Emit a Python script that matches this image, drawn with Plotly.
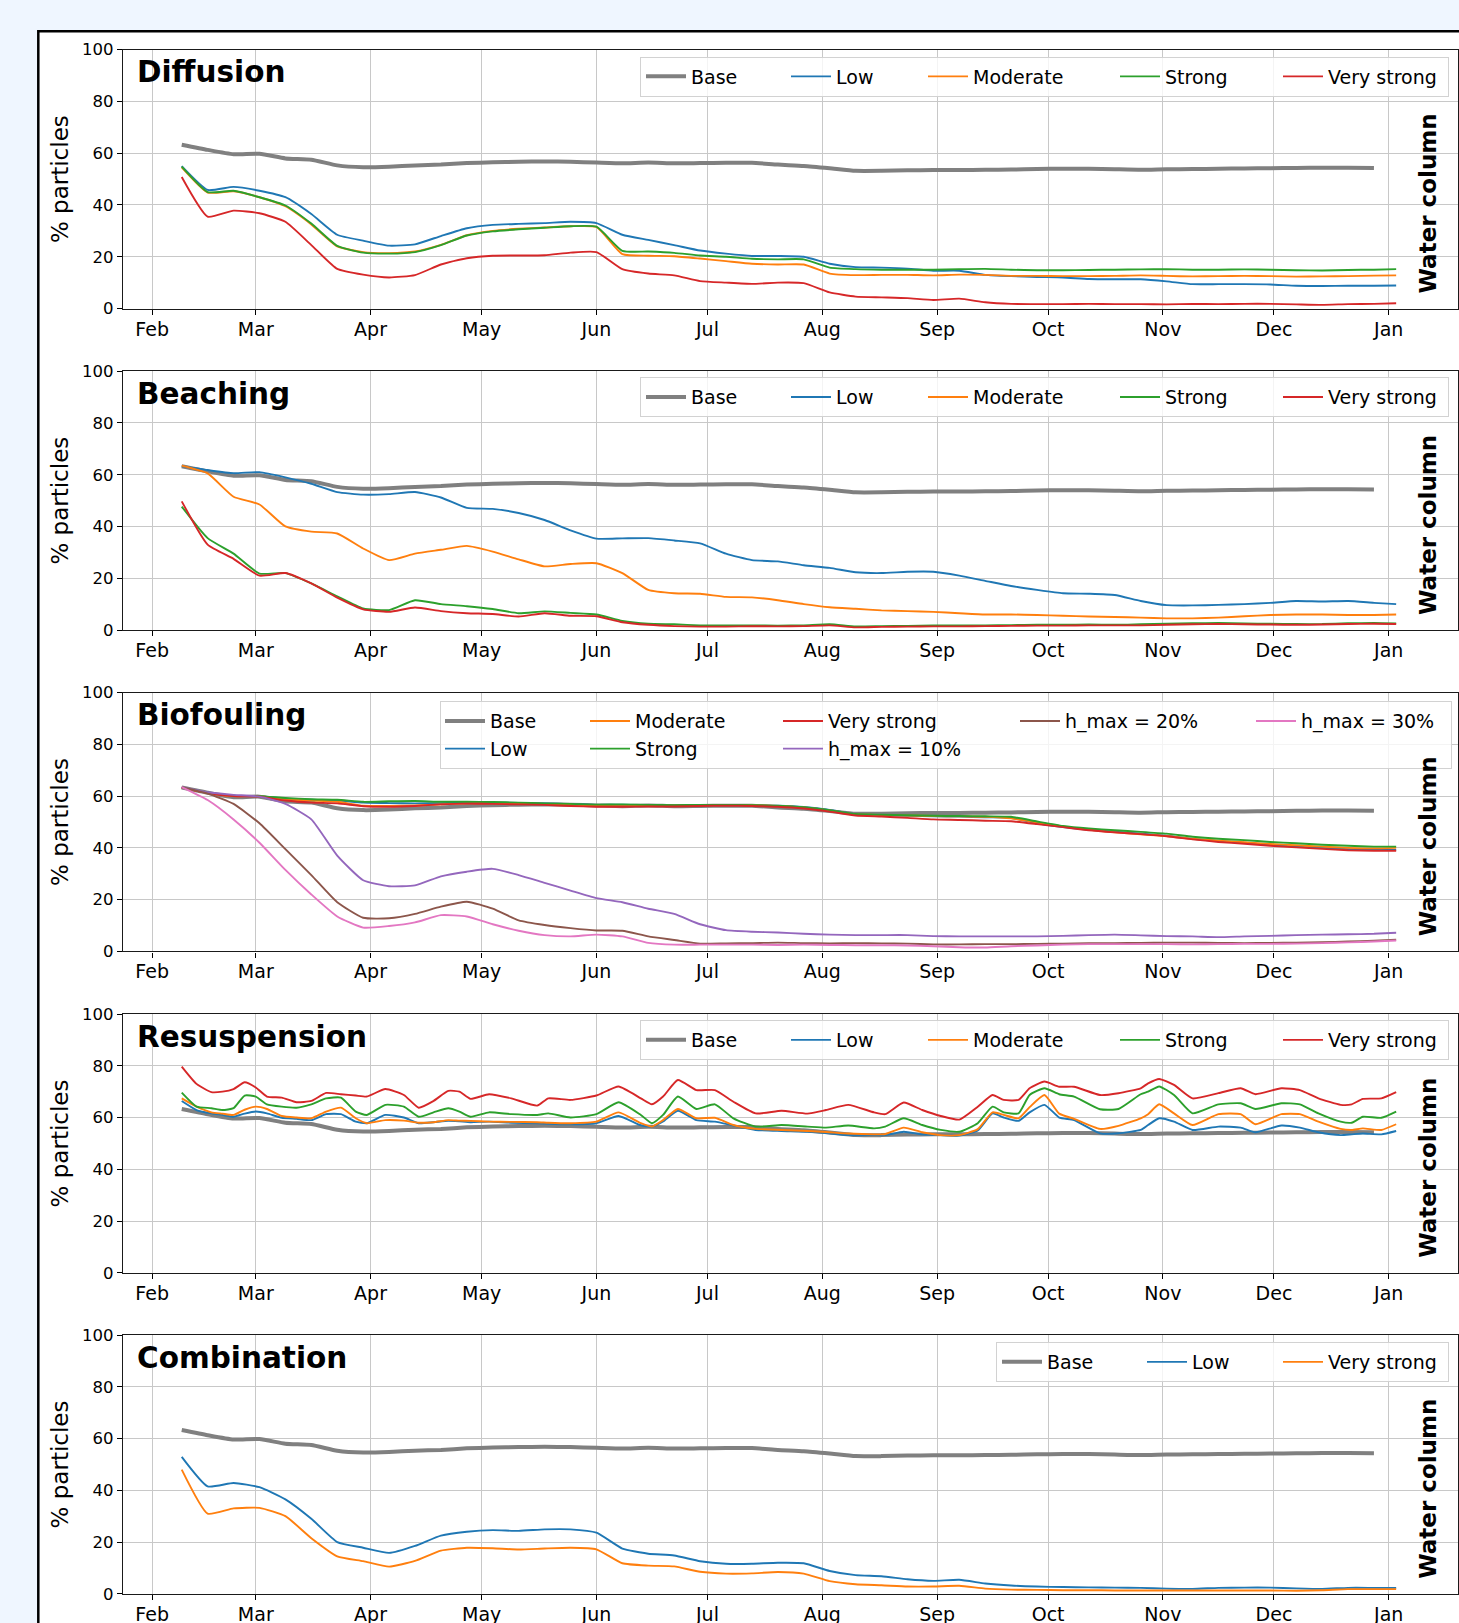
import pandas as pd
import plotly.graph_objects as go

# ---------------- data (days after 2019-02-01) ----------------
START = pd.Timestamp("2019-02-01")

weekly_days = [8, 15, 22, 29, 36, 43, 50, 57,
               64, 71, 78, 85, 92, 99, 106, 113,
               120, 127, 134, 141, 148, 155, 162, 169,
               176, 183, 190, 197, 204, 211, 218, 225,
               232, 239, 246, 253, 260, 267, 274, 281,
               288, 295, 302, 309, 316, 323, 330, 336]

base = [63.3, 61.3, 59.6, 59.8, 58.0, 57.5, 55.3, 54.6,
        54.8, 55.3, 55.6, 56.2, 56.5, 56.7, 56.8, 56.7,
        56.4, 56.1, 56.4, 56.1, 56.2, 56.3, 56.3, 55.6,
        55.1, 54.2, 53.2, 53.2, 53.4, 53.5, 53.5, 53.6,
        53.7, 53.9, 54.0, 54.0, 53.8, 53.6, 53.8, 53.9,
        54.0, 54.1, 54.2, 54.3, 54.4, 54.4, 54.3]

# Diffusion
dif_low = [55.0, 45.8, 47.0, 45.5, 43.0, 36.5, 28.5, 26.2,
           24.3, 24.8, 28.0, 31.0, 32.3, 32.7, 33.0, 33.5,
           33.0, 28.5, 26.5, 24.5, 22.4, 21.2, 20.3, 20.3,
           20.0, 17.3, 16.0, 15.8, 15.4, 14.6, 14.6, 13.0,
           12.5, 12.2, 12.0, 11.4, 11.3, 11.3, 10.5, 9.4,
           9.4, 9.4, 9.3, 8.8, 8.7, 8.8, 8.8, 8.9]
dif_mod = [54.5, 44.8, 45.3, 43.0, 39.5, 32.5, 24.0, 21.8,
           21.4, 22.0, 24.6, 28.3, 30.0, 30.8, 31.3, 31.8,
           31.5, 21.0, 20.4, 20.2, 19.3, 18.3, 17.3, 17.0,
           17.0, 13.5, 12.9, 13.0, 13.0, 12.8, 13.1, 13.0,
           12.6, 12.6, 12.5, 12.5, 12.6, 12.8, 12.6, 12.4,
           12.5, 12.6, 12.5, 12.3, 12.4, 12.5, 12.7, 12.8]
dif_str = [54.8, 45.0, 45.5, 43.0, 39.8, 32.8, 24.2, 21.6,
           21.2, 21.8, 24.5, 28.2, 29.8, 30.6, 31.2, 31.8,
           31.6, 22.3, 22.0, 21.5, 20.5, 20.0, 19.2, 19.0,
           19.0, 15.8, 15.2, 15.0, 15.0, 15.0, 15.2, 15.3,
           15.0, 14.8, 14.8, 14.9, 15.0, 15.1, 15.2, 15.0,
           15.0, 15.1, 15.0, 14.8, 14.7, 14.9, 15.0, 15.2]
dif_vs = [50.8, 35.5, 37.8, 36.8, 33.5, 24.5, 15.3, 13.1,
          12.0, 12.9, 17.0, 19.4, 20.4, 20.5, 20.6, 21.6,
          21.8, 15.2, 13.5, 12.8, 10.6, 10.0, 9.5, 10.0,
          9.8, 6.2, 4.6, 4.3, 4.0, 3.3, 3.8, 2.4,
          1.8, 1.7, 1.7, 1.8, 1.7, 1.7, 1.6, 1.8,
          1.7, 1.8, 1.8, 1.6, 1.4, 1.7, 1.8, 2.0]

# Beaching
bea_low = [63.3, 61.8, 60.6, 61.0, 59.0, 56.5, 53.3, 52.3,
           52.5, 53.3, 51.2, 47.2, 46.8, 45.2, 42.5, 38.5,
           35.3, 35.4, 35.5, 34.6, 33.5, 29.5, 27.0, 26.5,
           25.0, 24.0, 22.3, 22.0, 22.5, 22.5, 21.0, 19.0,
           17.0, 15.5, 14.2, 14.0, 13.5, 11.2, 9.6, 9.5,
           9.7, 10.0, 10.5, 11.2, 11.0, 11.2, 10.5, 10.0]
bea_mod = [63.5, 60.5, 51.5, 48.5, 40.0, 38.0, 37.3, 31.5,
           27.0, 29.5, 31.0, 32.5, 30.3, 27.3, 24.6, 25.5,
           25.8, 22.0, 15.5, 14.2, 14.0, 12.8, 12.6, 11.5,
           10.0, 8.8, 8.2, 7.6, 7.3, 7.0, 6.5, 6.0,
           6.0, 5.8, 5.5, 5.2, 5.0, 4.8, 4.5, 4.5,
           4.8, 5.3, 5.8, 6.0, 6.0, 5.8, 5.8, 6.0]
bea_str = [47.7, 35.5, 29.5, 21.8, 22.0, 18.0, 13.0, 8.3,
           7.7, 11.5, 10.0, 9.2, 8.1, 6.5, 7.2, 6.6,
           6.0, 3.5, 2.4, 2.2, 1.8, 1.8, 1.8, 1.7,
           1.8, 2.2, 1.4, 1.5, 1.6, 1.8, 1.8, 1.8,
           1.9, 2.0, 2.0, 2.1, 2.0, 2.2, 2.4, 2.6,
           2.7, 2.5, 2.4, 2.3, 2.3, 2.6, 2.7, 2.5]
bea_vs = [49.7, 33.0, 27.5, 21.0, 22.0, 18.0, 12.5, 8.0,
          7.0, 8.7, 7.3, 6.5, 6.2, 5.2, 6.5, 5.5,
          5.3, 3.0, 2.0, 1.5, 1.3, 1.3, 1.5, 1.4,
          1.5, 1.8, 1.0, 1.2, 1.3, 1.4, 1.4, 1.5,
          1.6, 1.7, 1.7, 1.8, 1.8, 1.8, 2.0, 2.2,
          2.3, 2.2, 2.1, 2.0, 2.1, 2.3, 2.4, 2.3]

# Biofouling
bio_low = [63.3, 61.3, 60.2, 60.0, 59.0, 58.6, 58.3, 57.5,
           57.3, 57.2, 57.3, 57.6, 57.5, 57.4, 57.2, 56.9,
           56.6, 56.7, 56.5, 56.4, 56.5, 56.6, 56.5, 56.3,
           55.8, 54.7, 53.0, 52.6, 52.4, 52.2, 52.1, 51.8,
           51.6, 49.5, 48.0, 47.0, 46.3, 45.5, 44.7, 43.5,
           42.6, 42.0, 41.2, 40.5, 40.0, 39.5, 39.2, 39.2]
bio_mod = [63.3, 61.2, 60.0, 60.0, 58.8, 58.3, 57.8, 56.3,
           56.2, 56.4, 56.8, 57.2, 57.2, 57.1, 57.0, 56.7,
           56.5, 56.6, 56.5, 56.4, 56.5, 56.6, 56.5, 56.2,
           55.6, 54.5, 53.0, 52.7, 52.5, 52.3, 52.2, 52.0,
           51.4, 49.8, 48.3, 47.0, 46.0, 45.2, 44.6, 43.5,
           42.8, 42.2, 41.5, 41.0, 40.5, 40.0, 39.8, 40.0]
bio_str = [63.3, 61.3, 60.2, 60.0, 59.3, 58.8, 58.6, 57.8,
           58.0, 58.1, 57.8, 57.8, 57.7, 57.5, 57.2, 57.0,
           56.7, 56.8, 56.6, 56.5, 56.6, 56.6, 56.5, 56.3,
           55.7, 54.6, 53.1, 52.8, 52.6, 52.4, 52.3, 52.2,
           52.0, 50.2, 48.5, 47.5, 46.8, 46.2, 45.5, 44.3,
           43.5, 43.0, 42.3, 41.8, 41.2, 40.8, 40.5, 40.5]
bio_vs = [63.3, 61.2, 60.0, 59.8, 58.3, 57.5, 57.2, 56.1,
          55.9, 56.2, 56.8, 57.1, 57.0, 56.8, 56.6, 56.2,
          55.9, 55.9, 56.0, 56.0, 56.2, 56.3, 56.2, 55.9,
          55.2, 54.0, 52.5, 52.1, 51.6, 51.0, 50.8, 50.5,
          50.3, 49.2, 48.0, 46.8, 46.0, 45.3, 44.5, 43.3,
          42.3, 41.6, 40.8, 40.2, 39.6, 39.1, 38.9, 38.9]
bio_h10 = [63.5, 61.5, 60.5, 59.8, 57.0, 51.0, 37.0, 27.5,
           25.2, 25.5, 29.0, 30.8, 31.9, 29.5, 26.5, 23.5,
           20.6, 19.0, 16.5, 14.5, 10.5, 8.2, 7.6, 7.3,
           6.8, 6.5, 6.3, 6.3, 6.3, 5.9, 5.8, 5.8,
           5.8, 5.8, 6.0, 6.3, 6.5, 6.2, 5.9, 5.8,
           5.5, 5.8, 6.0, 6.3, 6.5, 6.6, 6.8, 7.2]
bio_h20 = [63.5, 61.0, 57.0, 49.5, 39.5, 29.5, 19.0, 13.0,
           12.8, 14.5, 17.3, 19.2, 16.5, 12.0, 10.2, 9.0,
           8.1, 8.0, 5.8, 4.4, 3.0, 3.1, 3.2, 3.4,
           3.2, 3.1, 3.2, 3.1, 3.0, 2.7, 2.7, 2.8,
           2.8, 2.9, 3.0, 3.2, 3.2, 3.3, 3.4, 3.4,
           3.3, 3.2, 3.3, 3.4, 3.6, 3.8, 4.1, 4.5]
bio_h30 = [63.5, 58.5, 51.0, 42.0, 31.5, 22.0, 13.5, 9.2,
           9.8, 11.2, 14.0, 13.5, 10.5, 8.0, 6.3, 5.8,
           6.5, 5.8, 3.3, 2.6, 2.6, 2.6, 2.6, 2.5,
           2.6, 2.5, 2.4, 2.4, 2.3, 2.0, 1.6, 1.5,
           2.0, 2.3, 2.6, 2.8, 2.8, 2.8, 2.8, 2.7,
           2.8, 2.9, 2.9, 3.0, 3.2, 3.5, 3.8, 4.2]

# Resuspension (denser sampling)
res_days = [8, 12, 16, 19, 22, 25, 28, 31,
            35, 39, 43, 47, 51, 55, 58, 63,
            68, 72, 76, 80, 83, 86, 91, 97,
            104, 107, 113, 120, 126, 132, 135, 138,
            142, 147, 152, 157, 163, 170, 177, 182,
            188, 195, 198, 203, 208, 213, 218, 223,
            227, 230, 234, 237, 241, 245, 249, 256,
            261, 267, 269, 272, 276, 281, 288, 294,
            298, 305, 310, 315, 321, 324, 327, 332,
            336]
res_vs = [79.7, 73.0, 69.8, 70.0, 71.0, 73.6, 71.6, 68.1,
          67.7, 65.9, 66.4, 69.5, 69.0, 68.5, 68.1, 71.0,
          68.7, 63.8, 66.4, 70.3, 70.0, 67.2, 69.0, 67.4,
          64.6, 67.4, 66.8, 68.5, 72.0, 67.4, 65.1, 68.1,
          74.5, 70.6, 70.6, 66.1, 61.6, 62.6, 61.5, 62.9,
          64.9, 62.0, 61.3, 65.8, 62.9, 60.6, 59.2, 64.2,
          68.7, 66.8, 66.8, 71.3, 73.9, 71.9, 71.9, 68.7,
          69.4, 71.3, 73.2, 74.9, 72.6, 67.4, 69.4, 71.3,
          69.0, 71.3, 70.6, 67.4, 64.9, 65.1, 67.2, 67.4,
          69.8]
res_str = [69.6, 64.2, 63.6, 62.9, 63.6, 68.5, 68.1, 65.1,
           64.2, 63.8, 65.1, 67.4, 67.7, 62.3, 61.0, 64.9,
           64.2, 60.3, 62.0, 63.6, 62.3, 60.3, 62.0, 61.3,
           61.0, 61.6, 60.0, 61.3, 65.9, 61.0, 57.8, 61.0,
           68.1, 63.3, 65.1, 59.7, 56.5, 57.1, 56.5, 56.1,
           56.9, 55.8, 56.5, 59.7, 57.1, 55.2, 54.5, 57.8,
           64.2, 62.0, 61.6, 68.7, 71.3, 69.0, 68.1, 63.2,
           63.3, 69.0, 70.0, 72.0, 68.7, 61.6, 65.1, 65.5,
           63.3, 65.5, 65.1, 61.6, 58.4, 58.0, 60.3, 59.9,
           62.3]
res_mod = [67.4, 64.2, 62.0, 61.5, 61.0, 63.0, 64.2, 63.3,
           60.6, 60.0, 59.7, 62.3, 63.8, 59.7, 57.8, 59.0,
           58.8, 58.0, 58.2, 59.0, 58.8, 58.7, 58.4, 58.3,
           58.2, 58.0, 57.8, 58.4, 62.0, 57.8, 56.5, 59.0,
           63.3, 59.7, 59.9, 57.1, 55.6, 55.2, 54.8, 54.4,
           53.8, 53.5, 53.6, 56.1, 54.3, 53.2, 53.2, 55.5,
           62.0, 61.0, 59.7, 64.0, 68.7, 61.5, 59.5, 55.6,
           56.8, 59.7, 61.3, 65.1, 61.6, 57.1, 61.3, 61.3,
           57.4, 61.3, 61.3, 58.4, 55.6, 55.2, 55.8, 55.2,
           57.4]
res_low = [66.4, 62.9, 61.6, 61.0, 60.3, 61.5, 62.3, 61.6,
           59.9, 59.5, 59.0, 61.3, 61.3, 58.4, 57.8, 61.0,
           60.0, 57.8, 58.2, 58.7, 58.5, 58.2, 58.4, 58.0,
           57.8, 57.6, 57.4, 57.8, 60.6, 57.0, 56.5, 58.5,
           62.6, 59.0, 58.4, 56.9, 55.2, 54.8, 54.5, 54.0,
           53.2, 53.2, 53.2, 54.5, 53.5, 53.2, 53.0, 55.0,
           61.6, 60.0, 58.7, 62.0, 64.9, 60.0, 59.0, 53.9,
           53.9, 55.2, 57.1, 59.7, 58.4, 55.2, 56.5, 56.1,
           54.3, 56.9, 56.1, 54.3, 53.2, 53.5, 53.8, 53.5,
           54.8]

# Combination
com_low = [52.9, 41.5, 42.8, 41.2, 36.5, 29.0, 20.0, 17.8,
           15.8, 18.5, 22.5, 24.0, 24.6, 24.3, 24.9, 24.9,
           23.6, 17.5, 15.5, 14.8, 12.6, 11.6, 11.6, 12.0,
           11.8, 8.8, 7.2, 6.8, 5.6, 5.0, 5.4, 4.0,
           3.2, 2.8, 2.6, 2.5, 2.4, 2.3, 2.0, 1.9,
           2.3, 2.4, 2.4, 2.1, 1.9, 2.3, 2.3, 2.3]
com_vs = [48.0, 31.0, 33.0, 33.2, 30.0, 21.5, 14.5, 12.6,
          10.5, 12.7, 16.7, 17.8, 17.6, 17.1, 17.5, 17.8,
          17.2, 11.8, 10.9, 10.6, 8.5, 7.8, 7.9, 8.4,
          7.8, 4.9, 3.7, 3.3, 2.8, 2.8, 3.1, 2.0,
          1.6, 1.5, 1.4, 1.4, 1.3, 1.3, 1.3, 1.3,
          1.3, 1.3, 1.3, 1.2, 1.4, 1.8, 1.8, 1.8]

panel_titles = ["Diffusion", "Beaching", "Biofouling", "Resuspension", "Combination"]

# ---------------- styling ----------------
C_BASE = "#808080"
C = {"Low": "#1f77b4", "Moderate": "#ff7f0e", "Strong": "#2ca02c",
     "Very strong": "#d62728", "h_max = 10%": "#9467bd",
     "h_max = 20%": "#8c564b", "h_max = 30%": "#e377c2"}
FONT = "DejaVu Sans"

W, H = 1459, 1623
ML = 123
PW = W - ML - 1
tops = [49.7, 371.2, 692.6, 1014.0, 1335.0]
PH = 258.8


def dates(days):
    return [START + pd.Timedelta(days=d) for d in days]


wk = weekly_days
panels = [
    [("Base", wk[:len(base)], base, C_BASE, 4, 90),
     ("Low", wk, dif_low, C["Low"], 1.9, 82),
     ("Moderate", wk, dif_mod, C["Moderate"], 1.9, 137),
     ("Strong", wk, dif_str, C["Strong"], 1.9, 108),
     ("Very strong", wk, dif_vs, C["Very strong"], 1.9, 115)],
    [("Base", wk[:len(base)], base, C_BASE, 4, 90),
     ("Low", wk, bea_low, C["Low"], 1.9, 82),
     ("Moderate", wk, bea_mod, C["Moderate"], 1.9, 137),
     ("Strong", wk, bea_str, C["Strong"], 1.9, 108),
     ("Very strong", wk, bea_vs, C["Very strong"], 1.9, 115)],
    [("Base", wk[:len(base)], base, C_BASE, 4, 90, "g1"),
     ("Low", wk, bio_low, C["Low"], 1.9, 90, "g1"),
     ("Moderate", wk, bio_mod, C["Moderate"], 1.9, 138, "g2"),
     ("Strong", wk, bio_str, C["Strong"], 1.9, 138, "g2"),
     ("Very strong", wk, bio_vs, C["Very strong"], 1.9, 182, "g3"),
     ("h_max = 10%", wk, bio_h10, C["h_max = 10%"], 1.9, 182, "g3"),
     ("h_max = 20%", wk, bio_h20, C["h_max = 20%"], 1.9, 181, "g4"),
     ("h_max = 30%", wk, bio_h30, C["h_max = 30%"], 1.9, 145, "g5")],
    [("Base", wk[:len(base)], base, C_BASE, 4, 90),
     ("Low", res_days, res_low, C["Low"], 1.9, 82),
     ("Moderate", res_days, res_mod, C["Moderate"], 1.9, 137),
     ("Strong", res_days, res_str, C["Strong"], 1.9, 108),
     ("Very strong", res_days, res_vs, C["Very strong"], 1.9, 115)],
    [("Base", wk[:len(base)], base, C_BASE, 4, 90),
     ("Low", wk, com_low, C["Low"], 1.9, 81),
     ("Very strong", wk, com_vs, C["Moderate"], 1.9, 115)],
]
legend_centers = [26.8, 26.0, 42.5, 26.0, 27.0]
legend_right = [1449, 1449, 1452, 1449, 1449]

fig = go.Figure()
layout = dict(
    width=W, height=H,
    margin=dict(l=ML, r=1, t=0, b=0, pad=0),
    paper_bgcolor="#eff6ff", plot_bgcolor="white",
    font=dict(family=FONT, color="black", size=16),
    template="none", showlegend=True,
    annotations=[], shapes=[],
)

# figure frame (white card with black border)
layout["shapes"].append(dict(
    type="rect", xref="paper", yref="paper", layer="below",
    x0=(38.3 - ML) / PW, x1=(W + 40 - ML) / PW,
    y0=-0.1, y1=1 - 31.3 / H,
    line=dict(color="black", width=2.5), fillcolor="white"))

for i, (title, series) in enumerate(zip(panel_titles, panels)):
    k = i + 1
    s = "" if k == 1 else str(k)
    top = tops[i]
    y1 = 1 - top / H
    y0 = 1 - (top + PH) / H
    lg = "legend" if k == 1 else f"legend{k}"
    grouped = (title == "Biofouling")
    for item in series:
        name, dd, vals, col, lw, lwid = item[:6]
        grp = item[6] if len(item) > 6 else None
        fig.add_trace(go.Scatter(
            x=dates(dd[:len(vals)]), y=vals, mode="lines", name=name,
            line=dict(color=col, width=lw, shape="spline", smoothing=0.5),
            xaxis="x" + s, yaxis="y" + s, legend=lg,
            legendwidth=lwid,
            legendgroup=(f"p{k}{grp}" if grp else f"p{k}{name}"),
            hoverinfo="skip"))
    layout["xaxis" + s] = dict(
        domain=[0, 1], anchor="y" + s, type="date",
        range=["2019-01-24 03:20:00", "2020-01-19 16:50:00"],
        tick0="2019-02-01", dtick="M1", tickformat="%b",
        showgrid=True, gridcolor="#c8c8c8", gridwidth=1.3,
        ticks="outside", ticklen=5, tickwidth=1.3, tickcolor="black",
        ticklabelstandoff=-2,
        showline=True, linecolor="#1a1a1a", linewidth=1.4, mirror=True,
        zeroline=False, automargin=False,
        tickfont=dict(family=FONT, size=19, color="black"))
    layout["yaxis" + s] = dict(
        domain=[y0, y1], anchor="x" + s, range=[0, 100],
        tick0=0, dtick=20,
        showgrid=True, gridcolor="#c8c8c8", gridwidth=1.3,
        ticks="outside", ticklen=5, tickwidth=1.3, tickcolor="black",
        showline=True, linecolor="#1a1a1a", linewidth=1.4, mirror=True,
        zeroline=False, automargin=False,
        tickfont=dict(family=FONT, size=16.5, color="black"))
    layout[lg] = dict(
        orientation="h", xref="paper", yref="paper",
        x=(legend_right[i] - ML) / PW, xanchor="right",
        y=1 - (top + legend_centers[i]) / H, yanchor="middle",
        bgcolor="rgba(255,255,255,0.8)", bordercolor="#d2d2d2", borderwidth=1,
        font=dict(family=FONT, size=19, color="black"),
        itemwidth=40, tracegroupgap=0,
        traceorder="grouped" if grouped else "normal")
    layout["annotations"].append(dict(
        text=f"<b>{title}</b>", xref=f"x{s} domain", yref=f"y{s} domain",
        x=12 / PW, y=1 - (72.5 - 49.7) / PH, xanchor="left", yanchor="middle",
        showarrow=False, font=dict(family=FONT, size=29.5, color="black")))
    layout["annotations"].append(dict(
        text="<b>Water column</b>", xref=f"x{s} domain", yref=f"y{s} domain",
        x=(1428 - ML) / PW, y=0.406, xanchor="center", yanchor="middle",
        textangle=-90, showarrow=False,
        font=dict(family=FONT, size=23, color="black")))
    layout["annotations"].append(dict(
        text="% particles", xref="paper", yref=f"y{s} domain",
        x=(60 - ML) / PW, y=0.5, xanchor="center", yanchor="middle",
        textangle=-90, showarrow=False,
        font=dict(family=FONT, size=23, color="black")))

fig.update_layout(**layout)
fig.write_html("out.html", config={"displayModeBar": False},
               post_script="document.body.style.margin='0';document.body.style.overflow='hidden';")
